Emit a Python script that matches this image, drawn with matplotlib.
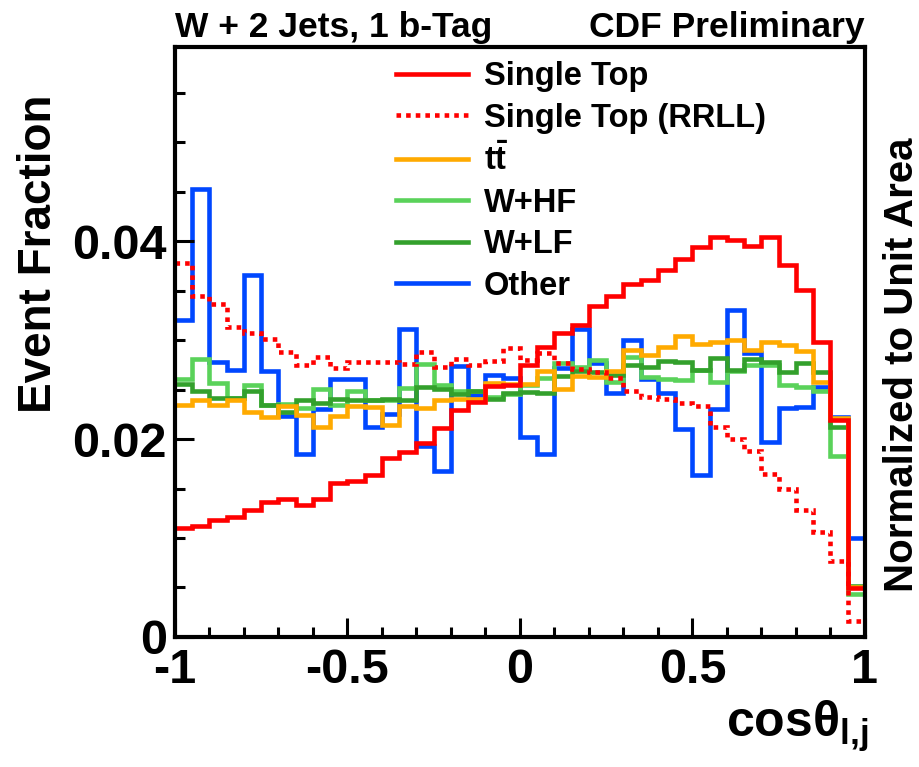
import numpy as np
import matplotlib
matplotlib.use('Agg')
import matplotlib.pyplot as plt
from matplotlib.ticker import MultipleLocator, FuncFormatter
from matplotlib.lines import Line2D

# Nastavenie pisma (ROOT styl - Helvetica bold)
plt.rcParams['font.family'] = ['Liberation Sans', 'DejaVu Sans']
plt.rcParams['font.weight'] = 'bold'
plt.rcParams['axes.unicode_minus'] = False
plt.rcParams['mathtext.fontset'] = 'custom'
plt.rcParams['mathtext.rm'] = 'Liberation Sans:bold'
plt.rcParams['mathtext.bf'] = 'Liberation Sans:bold'
plt.rcParams['mathtext.it'] = 'Liberation Sans:bold'
plt.rcParams['mathtext.default'] = 'rm'

# Hranice binov: 40 binov od -1 po 1
bin_edges = np.linspace(-1, 1, 41)

# Data odcitane z grafu
single_top = [0.0110, 0.0112, 0.0118, 0.0121, 0.0128, 0.0136, 0.0139, 0.0133, 0.0139, 0.0156,
              0.0158, 0.0164, 0.0181, 0.0187, 0.0196, 0.0211, 0.0229, 0.0237, 0.0254, 0.0255,
              0.0275, 0.0293, 0.0307, 0.0315, 0.0334, 0.0344, 0.0357, 0.0361, 0.0371, 0.0382,
              0.0394, 0.0404, 0.0401, 0.0395, 0.0404, 0.0376, 0.0351, 0.0298, 0.0219, 0.0049]
single_top_rrll = [0.0378, 0.0344, 0.0336, 0.0313, 0.0307, 0.0301, 0.0288, 0.0275, 0.0283, 0.0272,
                   0.0278, 0.0278, 0.0278, 0.0276, 0.0288, 0.0273, 0.0281, 0.0275, 0.0279, 0.0292,
                   0.0280, 0.0287, 0.0277, 0.0271, 0.0268, 0.0262, 0.0248, 0.0242, 0.0240, 0.0236,
                   0.0233, 0.0212, 0.0200, 0.0188, 0.0165, 0.0150, 0.0128, 0.0106, 0.0077, 0.0016]
ttbar = [0.0234, 0.0239, 0.0234, 0.0239, 0.0227, 0.0222, 0.0233, 0.0224, 0.0212, 0.0223,
         0.0233, 0.0232, 0.0214, 0.0233, 0.0231, 0.0239, 0.0240, 0.0240, 0.0257, 0.0256,
         0.0256, 0.0269, 0.0251, 0.0264, 0.0263, 0.0269, 0.0290, 0.0285, 0.0293, 0.0304,
         0.0296, 0.0298, 0.0300, 0.0290, 0.0298, 0.0295, 0.0289, 0.0258, 0.0221, 0.0051]
w_hf = [0.0261, 0.0281, 0.0257, 0.0241, 0.0255, 0.0234, 0.0235, 0.0231, 0.0251, 0.0234,
        0.0249, 0.0239, 0.0239, 0.0252, 0.0276, 0.0255, 0.0249, 0.0249, 0.0242, 0.0245,
        0.0255, 0.0262, 0.0277, 0.0273, 0.0280, 0.0258, 0.0283, 0.0263, 0.0261, 0.0260,
        0.0270, 0.0258, 0.0269, 0.0275, 0.0275, 0.0255, 0.0253, 0.0249, 0.0183, 0.0043]
w_lf = [0.0256, 0.0248, 0.0241, 0.0241, 0.0249, 0.0234, 0.0227, 0.0239, 0.0236, 0.0240,
        0.0239, 0.0239, 0.0240, 0.0239, 0.0253, 0.0251, 0.0245, 0.0249, 0.0240, 0.0246,
        0.0247, 0.0246, 0.0264, 0.0269, 0.0268, 0.0265, 0.0275, 0.0273, 0.0279, 0.0278,
        0.0270, 0.0282, 0.0270, 0.0281, 0.0278, 0.0268, 0.0277, 0.0268, 0.0212, 0.0052]
other = [0.0320, 0.0453, 0.0278, 0.0270, 0.0366, 0.0269, 0.0223, 0.0185, 0.0230, 0.0261,
         0.0261, 0.0212, 0.0225, 0.0311, 0.0193, 0.0168, 0.0274, 0.0244, 0.0265, 0.0262,
         0.0202, 0.0185, 0.0272, 0.0311, 0.0277, 0.0246, 0.0300, 0.0261, 0.0246, 0.0210,
         0.0164, 0.0230, 0.0330, 0.0287, 0.0197, 0.0231, 0.0232, 0.0253, 0.0222, 0.0100]

labels = ['Single Top', 'Single Top (RRLL)', r'$\mathbf{t}\bar{\mathbf{t}}$', 'W+HF', 'W+LF', 'Other']

fig = plt.figure(figsize=(9.2, 7.67), dpi=100)
ax = fig.add_axes([0.1902, 0.1695, 0.75, 0.7692])

lw = 3.3
dotted = (0, (1, 1.1))
ax.stairs(other, bin_edges, baseline=None, color='#0047ff', lw=lw)
ax.stairs(w_hf, bin_edges, baseline=None, color='#5ad25a', lw=lw)
ax.stairs(w_lf, bin_edges, baseline=None, color='#33a02c', lw=lw)
ax.stairs(ttbar, bin_edges, baseline=None, color='#ffaa00', lw=lw)
ax.stairs(single_top_rrll, bin_edges, baseline=None, color='#ff0000', lw=lw, linestyle=dotted)
ax.stairs(single_top, bin_edges, baseline=None, color='#ff0000', lw=lw)

# Legenda
handles = [Line2D([], [], color='#ff0000', lw=lw),
           Line2D([], [], color='#ff0000', lw=lw, linestyle=dotted),
           Line2D([], [], color='#ffaa00', lw=lw),
           Line2D([], [], color='#5ad25a', lw=lw),
           Line2D([], [], color='#33a02c', lw=lw),
           Line2D([], [], color='#0047ff', lw=lw)]
ax.legend(handles, labels, loc='upper left', bbox_to_anchor=(0.32, 0.976),
          frameon=False, fontsize=23.5, handlelength=2.2, handletextpad=0.5,
          labelspacing=0.32, borderpad=0, borderaxespad=0)

# Osi
ax.set_xlim(-1, 1)
ax.set_ylim(0, 0.0596)
ax.xaxis.set_major_locator(MultipleLocator(0.5))
ax.xaxis.set_minor_locator(MultipleLocator(0.1))
ax.yaxis.set_major_locator(MultipleLocator(0.02))
ax.yaxis.set_minor_locator(MultipleLocator(0.005))
ax.xaxis.set_major_formatter(FuncFormatter(lambda v, p: '%g' % round(v, 3)))
ax.yaxis.set_major_formatter(FuncFormatter(lambda v, p: '0' if abs(v) < 1e-9 else '%.2f' % v))
ax.tick_params(which='both', direction='in', top=False, right=False, width=2.2)
ax.tick_params(which='major', length=14, labelsize=35)
ax.tick_params(which='minor', length=7)
ax.tick_params(axis='x', pad=8)
ax.tick_params(axis='y', pad=6)
for s in ax.spines.values():
    s.set_linewidth(3)

ax.set_ylabel('Event Fraction', fontsize=33, fontweight='bold', loc='top')
ax.yaxis.set_label_coords(-0.165, 0.919)
ax.set_xlabel(r'cos$\theta_{l{,}j}$', fontsize=36, fontweight='bold', loc='right')
ax.xaxis.set_label_coords(1.005, -0.105)

ax.text(0.0, 1.017, 'W + 2 Jets, 1 b-Tag', transform=ax.transAxes, fontsize=25.5,
        fontweight='bold', ha='left', va='baseline')
ax.text(1.0, 1.017, 'CDF Preliminary', transform=ax.transAxes, fontsize=25.5,
        fontweight='bold', ha='right', va='baseline')
fig.text(0.98, 0.524, 'Normalized to Unit Area', rotation=90, fontsize=29,
         fontweight='bold', ha='center', va='center')

plt.savefig('out.png', dpi=100)
